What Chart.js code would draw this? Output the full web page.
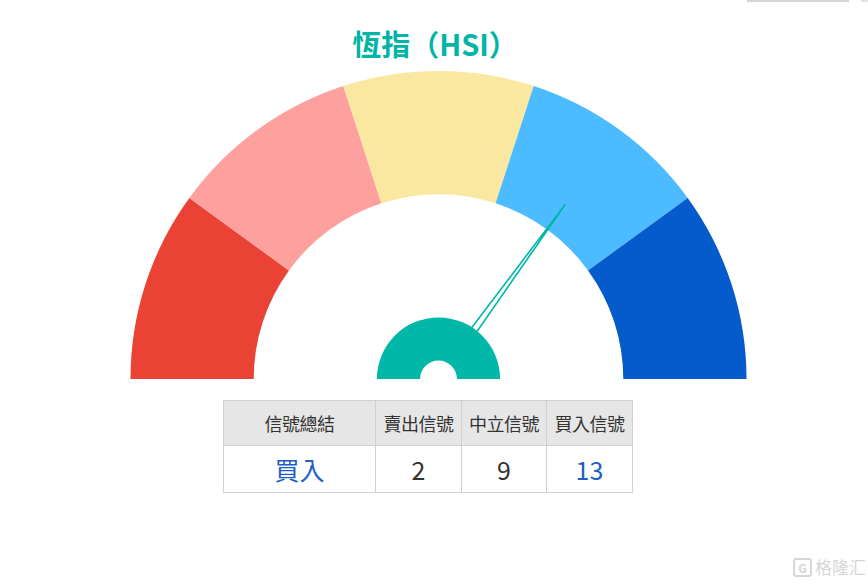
<!DOCTYPE html>
<html>
<head>
<meta charset="utf-8">
<script src="https://cdn.jsdelivr.net/npm/chart.js@4/dist/chart.umd.min.js"></script>
<style>
  html, body { margin: 0; padding: 0; background: #fff; width: 868px; height: 584px; overflow: hidden; position: relative; font-family: "Noto Sans CJK TC", "Noto Sans", sans-serif; }
  #title { position: absolute; left: 0; width: 870px; top: 23px; text-align: center; font-size: 29px; font-weight: bold; color: #00b5a6; line-height: 40px; }
  #wrap { position: absolute; left: 130px; top: 71px; width: 617px; height: 308px; }
  table { position: absolute; left: 223px; top: 400px; border-collapse: collapse; }
  td { border: 1px solid #d0d0d0; text-align: center; padding: 0; white-space: nowrap; }
  tr.h td { background: #e6e6e6; height: 44px; font-size: 18px; color: #333; letter-spacing: -0.5px; }
  tr.b td { height: 46px; font-size: 25px; color: #333; }
  .blue { color: #1b5fc4 !important; }
  #topline { position: absolute; left: 747px; top: 0; width: 102px; height: 2px; background: #d5d5d5; }
  #topline2 { position: absolute; left: 861px; top: 0; width: 7px; height: 2px; background: #e5e5e5; }
  #wm { position: absolute; left: 793px; top: 556px; color: #d6d6d6; font-size: 17px; line-height: 22px; white-space: nowrap; }
  #wm span.g { display: inline-block; width: 15px; height: 15px; border: 2px solid #d6d6d6; border-radius: 3px; font-size: 12px; line-height: 15px; text-align: center; font-weight: bold; margin-right: 3px; vertical-align: 1px; }
</style>
</head>
<body>
<div id="topline"></div><div id="topline2"></div>
<div id="title">恆指（HSI）</div>
<div id="wrap"><canvas id="c" width="617" height="308"></canvas></div>
<table id="tbl"></table>
<div id="wm"><span class="g">G</span>格隆汇</div>
<script>
const segmentLabels = ['強力賣出', '賣出', '中立', '買入', '強力買入'];
const segmentValues = [1, 1, 1, 1, 1];
const segmentColors = ['#ea4335', '#fea09e', '#fae8a0', '#4cbbff', '#055bcb'];
const needleValue = 0.7; // position on gauge, 0 = left end, 1 = right end
const headerLabels = ['信號總結', '賣出信號', '中立信號', '買入信號'];
const summaryLabel = '買入';
const signalCounts = [2, 9, 13];
const colWidths = [152, 86, 85, 86];

// table
const tbl = document.getElementById('tbl');
let h = '<tr class="h">' + headerLabels.map((t, i) => `<td style="width:${colWidths[i]-1}px;max-width:${colWidths[i]-1}px">${t}</td>`).join('') + '</tr>';
h += `<tr class="b"><td class="blue">${summaryLabel}</td>` +
  signalCounts.map((v, i) => `<td class="${i === 2 ? 'blue' : ''}">${v}</td>`).join('') + '</tr>';
tbl.innerHTML = h;

const teal = '#00b7a8';
const needlePlugin = {
  id: 'needle',
  afterDatasetsDraw(chart) {
    const meta = chart.getDatasetMeta(0);
    const arc = meta.data[0];
    if (!arc) return;
    const cx = arc.x, cy = arc.y, R = arc.outerRadius;
    const start = arc.startAngle;
    const last = meta.data[meta.data.length - 1];
    const end = last.endAngle;
    const ang = start + needleValue * (end - start);
    const ctx = chart.ctx;
    ctx.save();
    const len = R * 0.70, hw = 4.5;
    const tx = cx + Math.cos(ang) * len, ty = cy + Math.sin(ang) * len;
    const px = -Math.sin(ang) * hw, py = Math.cos(ang) * hw;
    ctx.beginPath();
    ctx.moveTo(cx + px, cy + py);
    ctx.lineTo(tx, ty);
    ctx.lineTo(cx - px, cy - py);
    ctx.strokeStyle = teal;
    ctx.lineWidth = 1.6;
    ctx.stroke();
    ctx.beginPath();
    ctx.arc(cx, cy, R * 0.2, Math.PI, 2 * Math.PI);
    ctx.closePath();
    ctx.fillStyle = teal;
    ctx.fill();
    ctx.beginPath();
    ctx.arc(cx, cy, R * 0.06, Math.PI, 2 * Math.PI);
    ctx.closePath();
    ctx.fillStyle = '#fff';
    ctx.fill();
    ctx.restore();
  }
};

new Chart(document.getElementById('c'), {
  type: 'doughnut',
  data: {
    labels: segmentLabels,
    datasets: [{ data: segmentValues, backgroundColor: segmentColors, borderWidth: 0, hoverOffset: 0 }]
  },
  options: {
    responsive: false,
    animation: false,
    rotation: -90,
    circumference: 180,
    cutout: '60%',
    layout: { padding: 0 },
    plugins: { legend: { display: false }, tooltip: { enabled: false } },
    events: []
  },
  plugins: [needlePlugin]
});
</script>
</body>
</html>
